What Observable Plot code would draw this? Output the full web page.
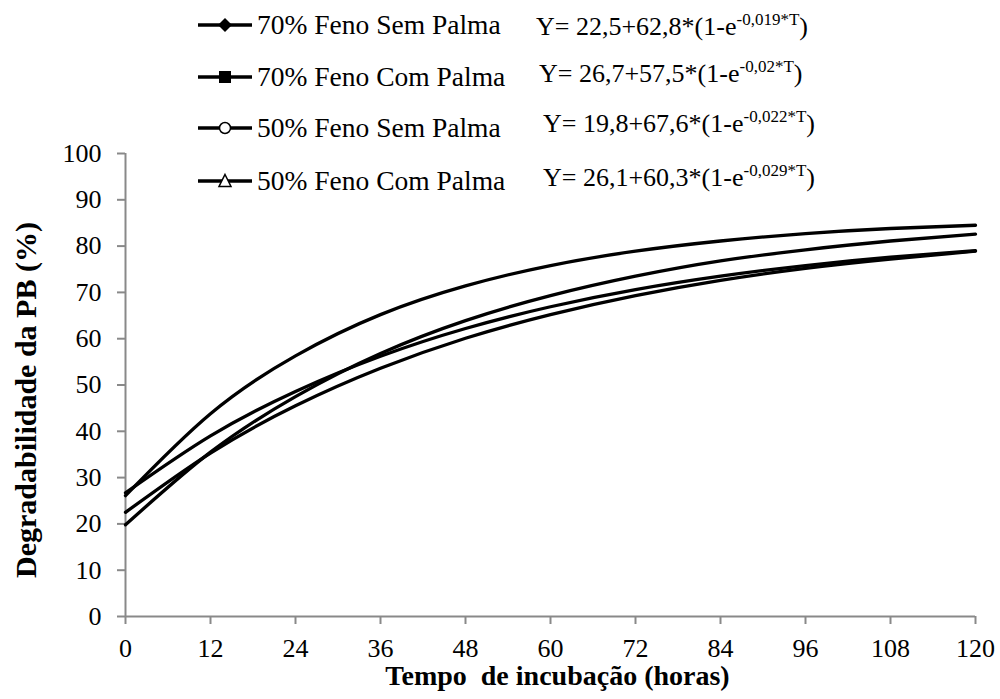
<!DOCTYPE html>
<html>
<head>
<meta charset="utf-8">
<script src="https://cdn.jsdelivr.net/npm/d3@7"></script>
<script src="https://cdn.jsdelivr.net/npm/@observablehq/plot@0.6"></script>
<style>
  body { margin: 0; background: #fff; font-family: "Liberation Serif", "Times New Roman", serif; }
  #wrap { position: relative; width: 1000px; height: 699px; overflow: hidden; }
  #chart { position: absolute; left: 0; top: 0; }
  .row { position: absolute; height: 34px; display: flex; align-items: center; white-space: nowrap; }
  .row svg { display: block; }
  .lab { font-size: 27.5px; margin-left: 5px; line-height: 34px; }
  .eq { position: absolute; font-size: 26px; line-height: 34px; white-space: nowrap; }
  .eq .sup { font-size: 17px; position: relative; top: -10px; }
</style>
</head>
<body>
<div id="wrap"><div id="chart"></div></div>
<script>
// ---- data ----
const hours = [0, 12, 24, 36, 48, 60, 72, 84, 96, 108, 120];
const names = ["70% Feno Sem Palma", "70% Feno Com Palma", "50% Feno Sem Palma", "50% Feno Com Palma"];
const feno70Sem = [22.5, 35.3, 45.5, 53.6, 60.1, 65.2, 69.3, 72.6, 75.2, 77.2, 78.9];
const feno70Com = [26.7, 39.0, 48.6, 56.2, 62.2, 66.9, 70.6, 73.5, 75.8, 77.6, 79.0];
const feno50Sem = [19.8, 35.5, 47.5, 56.8, 63.9, 69.3, 73.5, 76.8, 79.2, 81.1, 82.6];
const feno50Com = [26.1, 43.8, 56.3, 65.2, 71.4, 75.8, 78.9, 81.1, 82.7, 83.8, 84.5];
const eqMain = ["Y= 22,5+62,8*(1-e", "Y= 26,7+57,5*(1-e", "Y= 19,8+67,6*(1-e", "Y= 26,1+60,3*(1-e"];
const eqExp = ["-0,019*T", "-0,02*T", "-0,022*T", "-0,029*T"];
const markers = ["diamond", "square", "circle", "triangle"];
const xTicks = [0, 12, 24, 36, 48, 60, 72, 84, 96, 108, 120];
const yTicks = [0, 10, 20, 30, 40, 50, 60, 70, 80, 90, 100];
const xTitle = "Tempo  de incubação (horas)";
const yTitle = "Degradabilidade da PB (%)";

const seriesValues = [feno70Sem, feno70Com, feno50Sem, feno50Com];
const table = names.flatMap((name, k) => hours.map((h, i) => ({ h, v: seriesValues[k][i], name })));

const serif = "'Liberation Serif', 'Times New Roman', serif";
const gray = "#898989";
const chart = Plot.plot({
  width: 1000,
  height: 699,
  marginLeft: 125,
  marginRight: 25,
  marginTop: 153,
  marginBottom: 83,
  x: { domain: [0, 120] },
  y: { domain: [0, 100] },
  style: { fontFamily: serif, fontSize: "26px", color: "black", background: "transparent" },
  marks: [
    Plot.axisY(yTicks, { tickSize: 8, tickPadding: 16, stroke: gray, strokeWidth: 2, fill: "black", fontSize: 26, fontFamily: serif, label: null }),
    Plot.axisX(xTicks, { tickSize: 8, tickPadding: 14, stroke: gray, strokeWidth: 2, fill: "black", fontSize: 26, fontFamily: serif, label: null }),
    Plot.ruleX([0], { stroke: gray, strokeWidth: 2 }),
    Plot.ruleY([0], { stroke: gray, strokeWidth: 2 }),
    Plot.line(table, { x: "h", y: "v", z: "name", curve: "natural", stroke: "black", strokeWidth: 3.3 }),
    Plot.text([xTitle], { text: d => d, frameAnchor: "bottom", lineAnchor: "middle", textAnchor: "middle", dx: 7, dy: 60, fontWeight: "bold", fontSize: 28, fontFamily: serif, fill: "black" }),
    Plot.text([yTitle], { text: d => d, frameAnchor: "left", textAnchor: "middle", lineAnchor: "middle", rotate: -90, dx: -99, dy: 15, fontWeight: "bold", fontSize: 30, fontFamily: serif, fill: "black" })
  ]
});
document.getElementById("chart").appendChild(chart);

// ---- legend (overlay) ----
const wrap = document.getElementById("wrap");
const rowCenters = [25, 77, 128, 181];
const eqLeft = [536, 539, 543, 543];
const eqCenters = [27, 74, 124, 178];
function markerSvg(kind) {
  const ns = "http://www.w3.org/2000/svg";
  const s = document.createElementNS(ns, "svg");
  s.setAttribute("width", 54); s.setAttribute("height", 34);
  const line = document.createElementNS(ns, "line");
  line.setAttribute("x1", 0); line.setAttribute("x2", 54); line.setAttribute("y1", 17); line.setAttribute("y2", 17);
  line.setAttribute("stroke", "black"); line.setAttribute("stroke-width", 3.5);
  s.appendChild(line);
  let m;
  if (kind === "diamond") {
    m = document.createElementNS(ns, "path"); m.setAttribute("d", "M27,10 L34,17 L27,24 L20,17 Z"); m.setAttribute("fill", "black");
  } else if (kind === "square") {
    m = document.createElementNS(ns, "rect"); m.setAttribute("x", 21); m.setAttribute("y", 11); m.setAttribute("width", 12); m.setAttribute("height", 12); m.setAttribute("fill", "black");
  } else if (kind === "circle") {
    m = document.createElementNS(ns, "circle"); m.setAttribute("cx", 27); m.setAttribute("cy", 17); m.setAttribute("r", 5.5); m.setAttribute("fill", "white"); m.setAttribute("stroke", "black"); m.setAttribute("stroke-width", 1.5);
  } else {
    m = document.createElementNS(ns, "path"); m.setAttribute("d", "M27,10.5 L33,22.5 L21,22.5 Z"); m.setAttribute("fill", "white"); m.setAttribute("stroke", "black"); m.setAttribute("stroke-width", 1.5);
  }
  s.appendChild(m);
  return s;
}
names.forEach((name, i) => {
  const row = document.createElement("div");
  row.className = "row";
  row.style.left = "198px";
  row.style.top = (rowCenters[i] - 17) + "px";
  row.appendChild(markerSvg(markers[i]));
  const lab = document.createElement("span");
  lab.className = "lab";
  lab.textContent = name;
  row.appendChild(lab);
  wrap.appendChild(row);

  const eq = document.createElement("div");
  eq.className = "eq";
  eq.style.left = eqLeft[i] + "px";
  eq.style.top = (eqCenters[i] - 17) + "px";
  const a = document.createElement("span"); a.textContent = eqMain[i];
  const b = document.createElement("span"); b.className = "sup"; b.textContent = eqExp[i];
  const c = document.createElement("span"); c.textContent = ")";
  eq.appendChild(a); eq.appendChild(b); eq.appendChild(c);
  wrap.appendChild(eq);
});
</script>
</body>
</html>
